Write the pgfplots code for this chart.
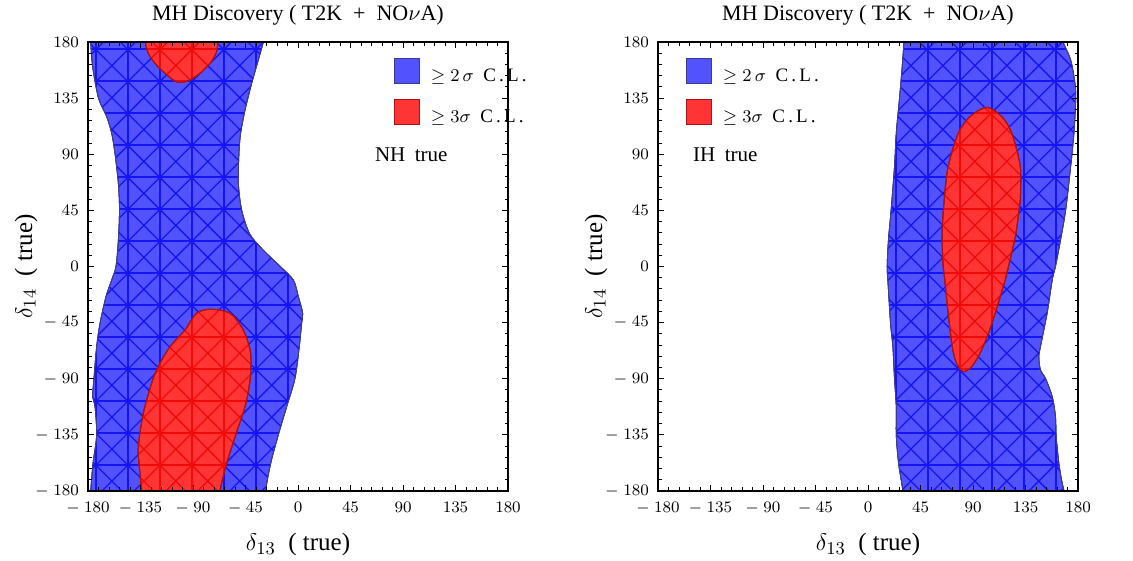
\documentclass[border=0pt]{standalone}
\usepackage{fontspec}
\setmainfont{Liberation Serif}
\usepackage{pgfplots}
\pgfplotsset{compat=1.18}
\usetikzlibrary{patterns.meta}

\definecolor{bfill}{RGB}{82,82,255}
\definecolor{bmesh}{RGB}{20,20,245}
\definecolor{bedge}{RGB}{60,60,140}
\definecolor{rfill}{RGB}{255,52,52}
\definecolor{rmesh}{RGB}{240,10,10}
\definecolor{redge}{RGB}{170,20,20}

\pgfplotsset{
  every axis title shift=0pt,
  myaxis/.style={
    scale only axis, width=210pt, height=224.5pt,
    xmin=-180, xmax=180, ymin=-180, ymax=180,
    xtick={-180,-135,-90,-45,0,45,90,135,180},
    ytick={-180,-135,-90,-45,0,45,90,135,180},
    xticklabels={$-\;180$,$-\;135$,$-\;90$,$-\;45$,$0$,$45$,$90$,$135$,$180$},
    yticklabels={$-\;180$,$-\;135$,$-\;90$,$-\;45$,$0$,$45$,$90$,$135$,$180$},
    minor tick num=4, tick align=inside,
    major tick length=3pt, minor tick length=1.75pt,
    tick style={black, line width=0.5pt},
    axis line style={line width=0.6pt},
    axis on top,
    tick label style={font=\fontsize{8.2}{9}\selectfont},
    xticklabel style={yshift=-2pt},
    yticklabel style={xshift=-1pt},
    title style={at={(axis description cs:0.5,1.0468)}, anchor=base, font=\fontsize{11}{13}\selectfont},
    xlabel style={at={(axis description cs:0.5,-0.1336)}, anchor=base, font=\fontsize{12.5}{14}\selectfont},
    ylabel style={at={(axis description cs:-0.1333,0.5)}, anchor=base, font=\fontsize{12.5}{14}\selectfont},
    title={MH Discovery ( T2K\enspace+\enspace NO$\nu$A)},
    xlabel={$\delta_{13}$\ \ ( true)},
    ylabel={$\delta_{14}$\ \ ( true)},
    legend image code/.code={\draw[##1] (0pt,-3.5pt) rectangle (12.5pt,9pt); \path (16.5pt,0pt);},
    legend cell align=left,
  },
  mylegend/.style={legend style={at={(axis description cs:#1,0.964)}, anchor=north west,
    draw=none, fill=none, inner sep=0pt, outer sep=0pt, row sep=6pt, column sep=0pt,
    nodes={inner sep=1.5pt},
    font=\fontsize{9.5}{10}\selectfont}},
  blueregion/.style={fill=bfill, draw=bedge, line width=0.4pt, smooth, tension=0.5, mark=none, forget plot,
    postaction={pattern={Hatch[angle=0,distance=16pt,line width=0.65pt]}, pattern color=bmesh},
    postaction={pattern={Hatch[angle=45,distance=11.3pt,line width=0.65pt]}, pattern color=bmesh}},
  redregion/.style={fill=rfill, draw=redge, line width=0.5pt, smooth, tension=0.5, mark=none, forget plot,
    postaction={pattern={Hatch[angle=0,distance=16pt,line width=0.65pt]}, pattern color=rmesh},
    postaction={pattern={Hatch[angle=45,distance=11.3pt,line width=0.65pt]}, pattern color=rmesh}},
}

\begin{document}
\begin{tikzpicture}
\useasboundingbox (0,0) rectangle (566.5pt,280.5pt);

% ---------------- Left panel: NH true ----------------
\begin{axis}[myaxis, mylegend=0.7286, at={(44pt,35pt)}, anchor=south west]
\addplot[blueregion] coordinates {
(-178,190) (-177.7,180) (-176,160.2) (-171,135) (-164,120.2) (-159.7,106.8) (-156.9,90.8)
(-154,66.7) (-153,45.3) (-154,21.2) (-156,0.2) (-159.7,-10.8) (-164.6,-24.2) (-169.7,-45.6)
(-172.6,-64.3) (-174.9,-89.7) (-176,-104.4) (-174,-112.4) (-172.6,-135.1) (-175.7,-157.8)
(-177.7,-180) (-178,-190)
(-26,-190) (-27.7,-180) (-23.4,-157.8) (-16.9,-135.1) (-9.7,-112.4) (-2.6,-89.7) (1.1,-64.3)
(3.1,-45.6) (4,-37.5) (0.3,-24.2) (-4,-10.8) (-15.4,0.2) (-24,7.8) (-32.6,15.9) (-41.7,26.6)
(-48.3,45.3) (-51.1,66.7) (-50.6,90.8) (-49.2,106.8) (-45.4,125.5) (-39.7,146.9) (-34,165.6)
(-29.7,180) (-27,190)
} -- cycle;
\addplot[redregion] coordinates {
(-133,-190) (-134,-180) (-136,-160.5) (-136.9,-144.5) (-132.6,-117.7) (-124.6,-91)
(-118.3,-77.6) (-109.7,-64.3) (-96.9,-50.9) (-86.9,-37.5) (-74.9,-34.3) (-58.3,-37.5)
(-46.9,-50.9) (-40.6,-69.6) (-41.1,-91) (-45.4,-112.4) (-52,-131.1) (-61.1,-157.8)
(-66.9,-180) (-68,-190)
} -- cycle;
\addplot[redregion] coordinates {
(-132,190) (-131,180) (-128.3,170.9) (-122.6,162.9) (-114,154.9) (-106.9,149.5)
(-101.1,147.5) (-92.6,149.5) (-84,154.9) (-75.4,162.9) (-70.3,170.9) (-68.5,180) (-68,190)
} -- cycle;
\addlegendimage{fill=bfill, draw=bedge, line width=0.4pt}
\addlegendentry{$\geq 2\,\sigma$\ \ C\,.\,L\,.}
\addlegendimage{fill=rfill, draw=redge, line width=0.4pt}
\addlegendentry{$\geq 3\sigma$\ \ C\,.\,L\,.}
\node[anchor=base west, font=\fontsize{10.5}{12}\selectfont] at (axis cs:60,83.8) {NH\hspace{0.45em}true};
\end{axis}

% ---------------- Right panel: IH true ----------------
\begin{axis}[myaxis, mylegend=0.067, at={(329pt,35pt)}, anchor=south west]
\addplot[blueregion] coordinates {
(31,190) (30.8,180) (29.3,160.2) (27,135) (24.2,106.8) (22.7,80.1) (19.8,45.3) (17.5,21.2)
(16.4,0.2) (17,-10.8) (19.3,-45.6) (21.3,-64.3) (22.7,-89.7) (24.2,-112.4) (24.2,-135.1)
(26.2,-157.8) (29.9,-180) (30.5,-190)
(169,-190) (167.9,-180) (165.9,-171.2) (163.6,-157.8) (161.3,-136.4) (160.7,-120.4)
(157.9,-104.4) (152.1,-89.7) (147.8,-83) (146.4,-72.3) (147.8,-64.3) (153.5,-37.5)
(157.9,-10.8) (160.7,0.2) (165,21.2) (169.4,45.3) (173.7,80.1) (176.5,106.8) (178,133.5)
(177.4,146.9) (173.7,165.6) (167.1,180) (164,190)
} -- cycle;
\addplot[redregion] coordinates {
(130.5,53.3) (126.8,26.6) (120.5,0.2) (117.6,-10.8) (109,-37.5) (103.2,-53.6) (96,-69.6)
(88.8,-80.3) (81.7,-84.3) (75.9,-77.6) (72.2,-64.3) (68.7,-37.5) (65.8,-10.8) (64.4,0.2)
(63.5,26.6) (65.3,53.3) (68.7,80.1) (77.3,106.8) (87.4,120.1) (101.8,127.6) (114.7,120.1)
(123.3,106.8) (130.5,80.1) (130.5,53.3)
} -- cycle;
\addlegendimage{fill=bfill, draw=bedge, line width=0.4pt}
\addlegendentry{$\geq 2\,\sigma$\ \ C\,.\,L\,.}
\addlegendimage{fill=rfill, draw=redge, line width=0.4pt}
\addlegendentry{$\geq 3\sigma$\ \ C\,.\,L\,.}
\node[anchor=base west, font=\fontsize{10.5}{12}\selectfont] at (axis cs:-155.9,84) {IH\hspace{0.45em}true};
\end{axis}
\end{tikzpicture}
\end{document}
